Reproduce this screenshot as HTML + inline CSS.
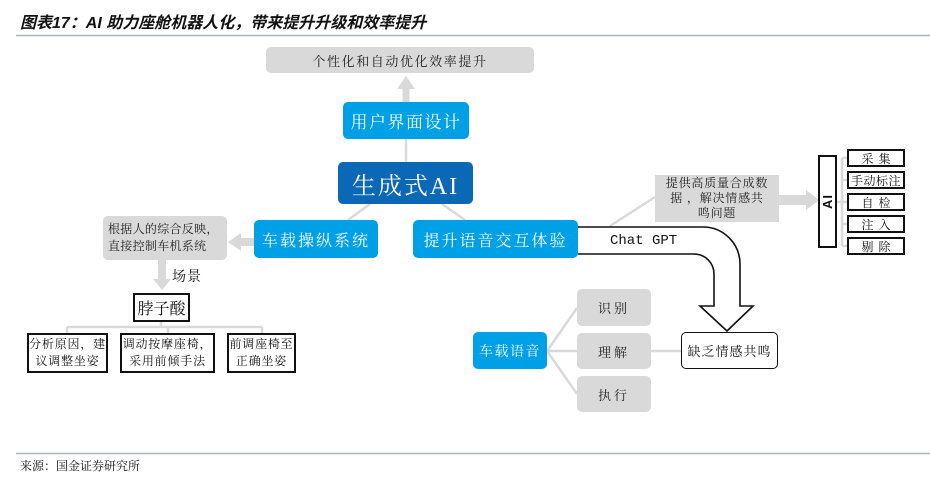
<!DOCTYPE html>
<html><head><meta charset="utf-8"><style>
html,body{margin:0;padding:0;background:#fff;}
body{width:930px;height:484px;position:relative;overflow:hidden;font-family:"Liberation Serif","Noto Serif CJK SC",serif;}
.a{position:absolute;box-sizing:border-box;display:flex;align-items:center;justify-content:center;text-align:center;}
.blue{background:#00a0e6;color:#fff;border-radius:5px;}
.dblue{background:#0a68b4;color:#fff;border-radius:5px;}
.gray{background:#d9d9d9;color:#222;border-radius:5px;}
.bk{border:2px solid #111;background:#fff;color:#111;}
svg{position:absolute;left:0;top:0;}
</style></head><body>
<svg width="930" height="484" viewBox="0 0 930 484">
  <line x1="16" y1="35.5" x2="930" y2="35.5" stroke="#a9b6bf" stroke-width="1.5"/>
  <line x1="16" y1="453.5" x2="930" y2="453.5" stroke="#a9b6bf" stroke-width="1.5"/>
  <g stroke="#d9d9d9" stroke-width="2.5" fill="none">
    <line x1="406" y1="139" x2="406" y2="162"/>
    <line x1="370" y1="204" x2="348" y2="220"/>
    <line x1="442" y1="204" x2="465" y2="220"/>
    <line x1="610" y1="226" x2="655" y2="197"/>
    <line x1="161" y1="322" x2="161" y2="327"/>
    <line x1="67" y1="327" x2="262" y2="327"/>
    <line x1="67" y1="327" x2="67" y2="334"/>
    <line x1="168" y1="327" x2="168" y2="334"/>
    <line x1="262" y1="327" x2="262" y2="334"/>
    <line x1="837" y1="202" x2="842" y2="202"/>
    <line x1="842" y1="158" x2="842" y2="246"/>
    <line x1="842" y1="158" x2="848" y2="158"/>
    <line x1="842" y1="180" x2="848" y2="180"/>
    <line x1="842" y1="202" x2="848" y2="202"/>
    <line x1="842" y1="224" x2="848" y2="224"/>
    <line x1="842" y1="246" x2="848" y2="246"/>
    <line x1="651" y1="351" x2="681" y2="351"/>
    <line x1="547" y1="351" x2="577" y2="308"/>
    <line x1="547" y1="351" x2="577" y2="351"/>
    <line x1="547" y1="351" x2="577" y2="394"/>
  </g>
  <g fill="#d9d9d9">
    <polygon points="406,76 415,89 409.5,89 409.5,103 402.5,103 402.5,89 397,89"/>
    <polygon points="228,242 241,233 241,238 255,238 255,246 241,246 241,251"/>
    <polygon points="162,290 171,279 166,279 166,260 158,260 158,279 153,279"/>
    <polygon points="819,200 806,190 806,195 778,195 778,205 806,205 806,210"/>
  </g>
  <path d="M578,227 L703,227 A37,37 0 0 1 740,264 L740,306 L753,306 L727,331 L700,306 L714,306 L714,274 A20,20 0 0 0 694,254 L578,254" fill="#fff" stroke="#111" stroke-width="1.6"/>
</svg>

<div style="position:absolute;left:20px;top:9px;font-size:16px;font-weight:bold;font-style:italic;color:#111;white-space:nowrap;font-family:'Liberation Sans','Noto Sans CJK SC',sans-serif;">图表17：AI 助力座舱机器人化，带来提升升级和效率提升</div>

<div class="a gray" style="left:266px;top:47px;width:268px;height:26px;font-size:13px;letter-spacing:1.6px;">个性化和自动优化效率提升</div>
<div class="a blue" style="left:343px;top:102px;width:126px;height:37px;font-size:17px;letter-spacing:1.5px;">用户界面设计</div>
<div class="a dblue" style="left:338px;top:162px;width:135px;height:42px;font-size:24px;letter-spacing:2px;">生成式AI</div>
<div class="a blue" style="left:254px;top:220px;width:124px;height:38px;font-size:16px;letter-spacing:2px;">车载操纵系统</div>
<div class="a blue" style="left:413px;top:220px;width:165px;height:38px;font-size:16px;letter-spacing:2px;">提升语音交互体验</div>

<div class="a gray" style="left:103px;top:216px;width:124px;height:44px;font-size:12px;line-height:17px;letter-spacing:0.3px;justify-content:flex-start;text-align:left;padding-left:5px;">根据人的综合反映，<br>直接控制车机系统</div>
<div style="position:absolute;left:172px;top:266px;font-size:14px;color:#111;letter-spacing:1px;">场景</div>
<div class="a bk" style="left:133px;top:293px;width:57px;height:29px;font-size:16px;">脖子酸</div>
<div class="a bk" style="left:27px;top:333px;width:81px;height:40px;font-size:12px;line-height:17px;letter-spacing:0.8px;">分析原因，建<br>议调整坐姿</div>
<div class="a bk" style="left:120px;top:333px;width:95px;height:40px;font-size:12px;line-height:17px;letter-spacing:0.8px;">调动按摩座椅，<br>采用前倾手法</div>
<div class="a bk" style="left:227px;top:333px;width:69px;height:40px;font-size:12px;line-height:17px;letter-spacing:0.8px;">前调座椅至<br>正确坐姿</div>

<div class="a" style="left:655px;top:175px;width:124px;height:47px;background:#d9d9d9;color:#222;font-size:12px;line-height:15px;letter-spacing:0.8px;">提供高质量合成数<br>据 ，解决情感共<br>鸣问题</div>
<div class="a bk" style="left:818px;top:155px;width:19px;height:93px;"><span style="display:inline-block;transform:rotate(-90deg);font-size:13px;font-weight:bold;font-family:'Liberation Sans',sans-serif;letter-spacing:1px;">AI</span></div>
<div class="a bk" style="left:847px;top:149px;width:58px;height:18px;font-size:12px;letter-spacing:5px;padding-left:5px;">采集</div>
<div class="a bk" style="left:847px;top:171px;width:58px;height:18px;font-size:12px;letter-spacing:0.5px;">手动标注</div>
<div class="a bk" style="left:847px;top:193px;width:58px;height:18px;font-size:12px;letter-spacing:5px;padding-left:5px;">自检</div>
<div class="a bk" style="left:847px;top:215px;width:58px;height:18px;font-size:12px;letter-spacing:5px;padding-left:5px;">注入</div>
<div class="a bk" style="left:847px;top:237px;width:58px;height:18px;font-size:12px;letter-spacing:5px;padding-left:5px;">剔除</div>

<div style="position:absolute;left:610px;top:233px;font-size:14px;color:#111;font-family:'Liberation Mono',monospace;white-space:nowrap;">Chat GPT</div>

<div class="a blue" style="left:473px;top:332px;width:74px;height:37px;font-size:14px;letter-spacing:1.5px;">车载语音</div>
<div class="a gray" style="left:577px;top:289px;width:74px;height:37px;font-size:13px;letter-spacing:3px;">识别</div>
<div class="a gray" style="left:577px;top:333px;width:74px;height:36px;font-size:13px;letter-spacing:3px;">理解</div>
<div class="a gray" style="left:577px;top:376px;width:74px;height:36px;font-size:13px;letter-spacing:3px;">执行</div>
<div class="a" style="left:681px;top:332px;width:97px;height:37px;border:1.6px solid #111;border-radius:5px;background:#fff;color:#111;font-size:13px;letter-spacing:1px;">缺乏情感共鸣</div>

<div style="position:absolute;left:20px;top:457px;font-size:12px;color:#111;white-space:nowrap;">来源：国金证券研究所</div>
</body></html>
